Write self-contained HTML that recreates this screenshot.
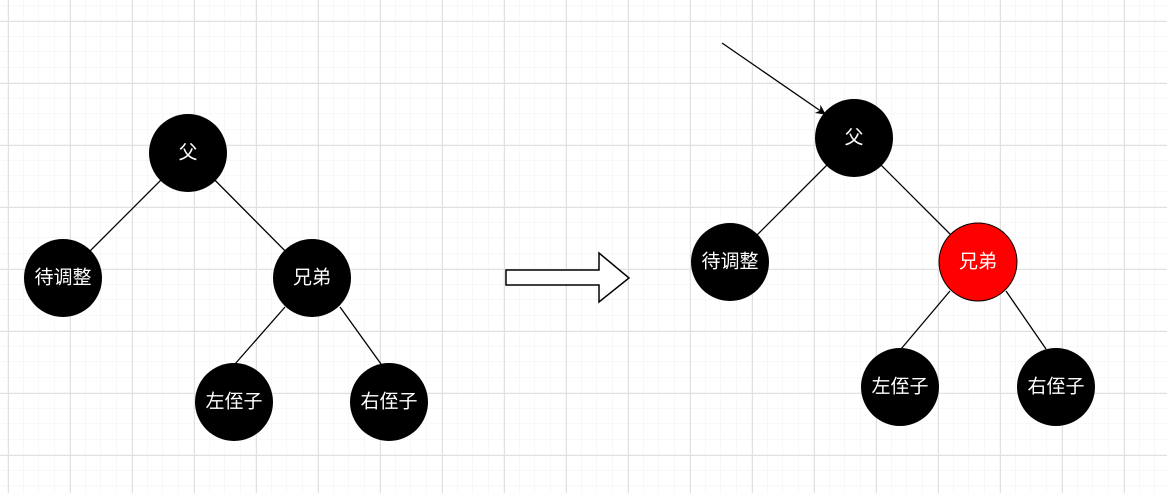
<!DOCTYPE html>
<html><head><meta charset="utf-8"><style>
html,body{margin:0;padding:0;background:#fff;}
svg{display:block;}
text{font-family:"Liberation Sans","Noto Sans CJK SC",sans-serif;font-size:19px;fill:#fff;text-anchor:middle;dominant-baseline:central;}
</style></head><body>
<svg width="1167" height="493" viewBox="0 0 1167 493" xmlns="http://www.w3.org/2000/svg">
<defs>
<pattern id="minor" x="8" y="5.5" width="15.5" height="15.5" patternUnits="userSpaceOnUse">
<path d="M15.5 0V15.5M0 15.5H15.5" stroke="#f0f0f0" stroke-width="1" fill="none"/>
</pattern>
<pattern id="major" x="8" y="21" width="62" height="62" patternUnits="userSpaceOnUse">
<path d="M0.5 0V62M0 0.5H62" stroke="#e0e0e0" stroke-width="1" fill="none"/>
</pattern>
<marker id="ah" markerWidth="10" markerHeight="10" refX="9" refY="5" orient="auto" markerUnits="userSpaceOnUse">
<path d="M0 0L10 5L0 10L3 5Z" fill="#000"/>
</marker>
</defs>
<rect width="1167" height="493" fill="url(#minor)"/>
<rect width="1167" height="493" fill="url(#major)"/>
<g stroke="#000" stroke-width="1.3">
<line x1="188" y1="153" x2="63" y2="278"/>
<line x1="188" y1="153" x2="312" y2="278"/>
<line x1="285" y1="307" x2="235" y2="364"/>
<line x1="340" y1="307" x2="381" y2="364"/>
<line x1="854" y1="138" x2="730" y2="262"/>
<line x1="854" y1="138" x2="978" y2="262"/>
<line x1="950" y1="291" x2="901" y2="349"/>
<line x1="1006" y1="291" x2="1046" y2="349"/>
<line x1="722" y1="43" x2="825" y2="114" marker-end="url(#ah)"/>
</g>
<g fill="#000">
<circle cx="188" cy="153" r="39"/>
<circle cx="63" cy="278" r="39"/>
<circle cx="312" cy="278" r="39"/>
<circle cx="234" cy="402" r="39"/>
<circle cx="389" cy="402" r="39"/>
<circle cx="854" cy="138" r="39"/>
<circle cx="730" cy="262" r="39"/>
<circle cx="900" cy="387" r="39"/>
<circle cx="1056" cy="387" r="39"/>
</g>
<circle cx="978" cy="262" r="39" fill="#ff0000" stroke="#000" stroke-width="1"/>
<text x="188" y="153">父</text>
<text x="63" y="278">待调整</text>
<text x="312" y="278">兄弟</text>
<text x="234" y="402">左侄子</text>
<text x="389" y="402">右侄子</text>
<text x="854" y="138">父</text>
<text x="730" y="262">待调整</text>
<text x="978" y="262">兄弟</text>
<text x="900" y="387">左侄子</text>
<text x="1056" y="387">右侄子</text>
<path d="M506 270H599V253L629 278L599 302V285H506Z" fill="#fff" stroke="#000" stroke-width="1.5"/>
</svg>
</body></html>
